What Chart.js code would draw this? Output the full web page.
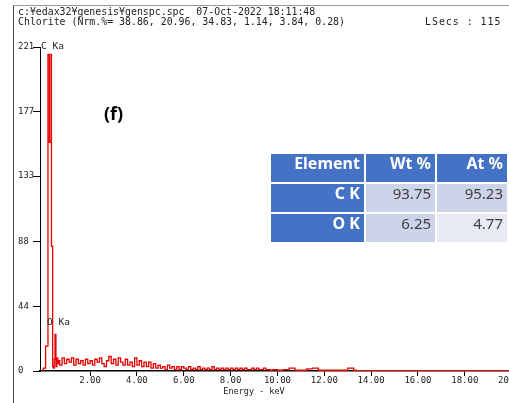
<!DOCTYPE html>
<html>
<head>
<meta charset="utf-8">
<script src="https://cdn.jsdelivr.net/npm/chart.js@4"></script>
<style>
  html, body { margin: 0; padding: 0; background: #fff; overflow: hidden; }
  #wrap { position: relative; width: 509px; height: 403px; overflow: hidden; }
  #frame { position: absolute; left: 13px; top: 5px; width: 600px; height: 500px;
    border-top: 1px solid #9a9a9a; border-left: 1px solid #444; }
  #hdr { position: absolute; left: 18px; top: 7px; font: 9.9px "DejaVu Sans Mono", monospace;
    line-height: 10px; color: #222; white-space: pre; }
  #lsecs { position: absolute; left: 425px; top: 17px; font: 9.9px "DejaVu Sans Mono", monospace;
    line-height: 10px; color: #222; white-space: pre; letter-spacing: 1px; }
  #tag { position: absolute; left: 104px; top: 101px; font: bold 18px "Open Sans", sans-serif; color: #000; }
  #c { position: absolute; left: 0; top: 0; }
  table { position: absolute; left: 269px; top: 152px; border-collapse: collapse;
    font-family: "Noto Sans", "Open Sans", sans-serif; font-size: 15px; }
  td, th { border: 2px solid #fff; text-align: right; vertical-align: top; padding: 0 4px 0 0; line-height: 19px; }
  th { background: #4472c4; color: #fff; font-weight: bold; font-size: 16px; height: 28px; }
  td { height: 28px; }
  td.el { background: #4472c4; color: #fff; font-weight: bold; font-size: 16px; }
  td.d1 { background: #cdd3e9; color: #404040; }
  td.d2 { background: #e8eaf5; color: #404040; }
</style>
</head>
<body>
<div id="wrap">
  <div id="frame"></div>
  <canvas id="c" width="540" height="403"></canvas>
  <div id="hdr">c:¥edax32¥genesis¥genspc.spc  07-Oct-2022 18:11:48
Chlorite (Nrm.%= 38.86, 20.96, 34.83, 1.14, 3.84, 0.28)</div>
  <div id="lsecs">LSecs : 115</div>
  <div id="tag">(f)</div>
  <table>
    <tr><th style="width:94px">Element</th><th style="width:71px">Wt %</th><th style="width:72px">At %</th></tr>
    <tr><td class="el">C K</td><td class="d1">93.75</td><td class="d1">95.23</td></tr>
    <tr><td class="el">O K</td><td class="d1">6.25</td><td class="d2">4.77</td></tr>
  </table>
</div>
<script>
// peak region (keV, counts)
const peakEnergy = [0.00, 0.10, 0.20, 0.26, 0.33, 0.35, 0.40, 0.43, 0.47, 0.50, 0.54, 0.58, 0.62, 0.66];
const peakCounts = [0, 2, 17, 216, 156, 216, 85, 3, 2, 8, 25, 3, 9, 5];

// background, 0.7 - 10.0 keV
const bgEnergy = [
  0.7, 0.8, 0.9, 1.0, 1.1, 1.2, 1.3, 1.4, 1.5, 1.6, 1.7, 1.8, 1.9, 2.0,
  2.1, 2.2, 2.3, 2.4, 2.5, 2.6, 2.7, 2.8, 2.9, 3.0, 3.1, 3.2, 3.3, 3.4, 3.5,
  3.6, 3.7, 3.8, 3.9, 4.0, 4.1, 4.2, 4.3, 4.4, 4.5, 4.6, 4.7, 4.8, 4.9, 5.0,
  5.1, 5.2, 5.3, 5.4, 5.5, 5.6, 5.7, 5.8, 5.9, 6.0, 6.1, 6.2, 6.3, 6.4, 6.5,
  6.6, 6.7, 6.8, 6.9, 7.0, 7.1, 7.2, 7.3, 7.4, 7.5, 7.6, 7.7, 7.8, 7.9, 8.0,
  8.1, 8.2, 8.3, 8.4, 8.5, 8.6, 8.7, 8.8, 8.9, 9.0, 9.1, 9.2, 9.3, 9.4, 9.5,
  9.6, 9.7, 9.8, 9.9, 10.0
];
const bgCounts = [
  7, 4, 9, 5, 8, 6, 9, 4, 8, 5, 7, 4, 8, 5,
  7, 4, 8, 6, 9, 5, 3, 7, 10, 5, 8, 4, 9, 6, 4,
  8, 4, 6, 3, 9, 4, 7, 3, 6, 3, 6, 2, 5, 2, 4,
  2, 3, 1, 4, 2, 3, 1, 3, 1, 3, 2, 1, 3, 1, 2,
  1, 3, 1, 2, 1, 2, 1, 3, 1, 2, 1, 2, 1, 2, 1,
  2, 1, 2, 1, 2, 1, 2, 1, 1, 2, 1, 2, 1, 1, 2,
  1, 1, 0.5, 1, 1
];

// tail, 10.25 - 21 keV
const tailEnergy = [
  10.25, 10.5, 10.75, 10.85, 11.25, 11.5, 11.75, 11.85, 12.25, 12.5, 12.75, 13.0,
  13.25, 13.35, 13.75, 14.0, 14.5, 15.0, 15.5, 16.0, 16.5, 17.0,
  17.5, 18.0, 18.5, 19.0, 19.5, 20.0, 20.5, 21.0
];
const tailCounts = [
  0.5, 1, 2, 0.5, 0.5, 1.5, 2, 0.5, 0.5, 0.5, 0.5, 0.5,
  2, 0.5, 0.3, 0.3, 0.3, 0.3, 0.3, 0.3, 0.3, 0.3,
  0.3, 0.3, 0.3, 0.3, 0.3, 0.3, 0.3, 0.3
];

const yTicks = [0, 44, 88, 133, 177, 221];
const xTicks = [2, 4, 6, 8, 10, 12, 14, 16, 18, 20];

const energy = [...peakEnergy, ...bgEnergy, ...tailEnergy];
const counts = [...peakCounts, ...bgCounts, ...tailCounts];
const points = energy.map((e, i) => ({ x: e, y: counts[i] }));

const mono = '"DejaVu Sans Mono", monospace';

const labels = {
  id: 'labels',
  afterDraw(chart) {
    const { ctx, scales: { x, y }, chartArea } = chart;
    ctx.save();
    ctx.fillStyle = '#222';
    ctx.font = '9.5px ' + mono;
    ctx.textBaseline = 'middle';
    ctx.textAlign = 'left';
    ctx.fillText('C Ka', chartArea.left + 1, y.getPixelForValue(221));
    ctx.fillText('O Ka', x.getPixelForValue(0.16), y.getPixelForValue(33));
    ctx.font = '8.5px ' + mono;
    ctx.textAlign = 'center';
    ctx.fillText('Energy - keV', 254, 392);
    ctx.restore();
  }
};

new Chart(document.getElementById('c').getContext('2d'), {
  type: 'line',
  data: {
    datasets: [{
      data: points,
      borderColor: '#e60000',
      borderWidth: 1.3,
      pointRadius: 0,
      stepped: 'after',
      fill: false
    }]
  },
  options: {
    responsive: false,
    animation: false,
    layout: { padding: { left: 18, top: 47, right: 5, bottom: 0 } },
    plugins: { legend: { display: false }, tooltip: { enabled: false } },
    scales: {
      x: {
        type: 'linear',
        min: -0.14,
        max: 21,
        afterBuildTicks: s => { s.ticks = xTicks.map(v => ({ value: v })); },
        afterFit: s => { s.height = 32; },
        grid: { drawOnChartArea: false, tickLength: 5, color: '#000' },
        border: { color: '#000', width: 1.5 },
        ticks: {
          padding: -1,
          color: '#222',
          font: { family: mono, size: 9 },
          maxRotation: 0,
          autoSkip: false,
          callback: v => v.toFixed(2)
        }
      },
      y: {
        min: 0,
        max: 221,
        afterBuildTicks: s => { s.ticks = yTicks.map(v => ({ value: v })); },
        afterFit: s => { s.width = 22; },
        grid: { drawOnChartArea: false, tickLength: 7, color: '#000' },
        border: { color: '#000', width: 1 },
        ticks: {
          padding: 0,
          crossAlign: 'far',
          color: '#222',
          font: { family: mono, size: 9 },
          autoSkip: false,
          callback: v => String(v)
        }
      }
    }
  },
  plugins: [labels]
});
</script>
</body>
</html>
